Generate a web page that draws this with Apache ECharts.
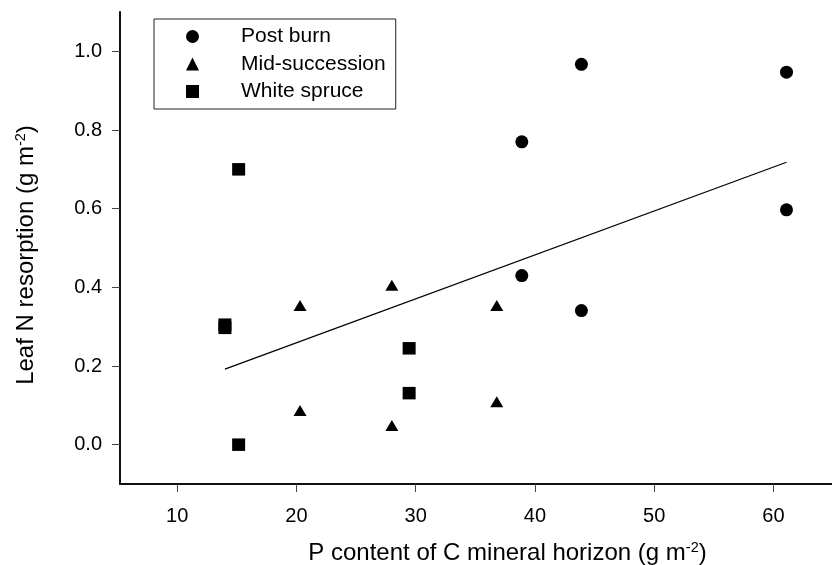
<!DOCTYPE html>
<html>
<head>
<meta charset="utf-8">
<title>Leaf N resorption vs P content</title>
<script src="https://cdn.jsdelivr.net/npm/echarts@6/dist/echarts.min.js"></script>
<style>
  html, body { margin: 0; padding: 0; background: #fff; }
  #chart { width: 832px; height: 565px; }
</style>
</head>
<body>
<div id="chart"></div>
<script>
// Stand types: P content of the C mineral horizon (g m-2) vs leaf N resorption (g m-2)
const postBurnX = [38.9, 38.9, 43.9, 43.9, 61.1, 61.1];
const postBurnY = [0.770, 0.430, 0.967, 0.341, 0.947, 0.597];

const midSuccX = [20.3, 20.3, 28.0, 28.0, 36.8, 36.8];
const midSuccY = [0.354, 0.087, 0.405, 0.049, 0.354, 0.109];

const spruceX = [15.15, 15.15, 14.0, 14.0, 29.45, 29.45];
const spruceY = [0.700, 0.000, 0.305, 0.297, 0.245, 0.131];

// Least-squares fit line over the pooled stands (end points)
const fitX = [14.0, 61.1];
const fitY = [0.192, 0.718];

const seriesNames = ['Post burn', 'Mid-succession', 'White spruce'];
const xTicks = [10, 20, 30, 40, 50, 60];
const yTicks = [0.0, 0.2, 0.4, 0.6, 0.8, 1.0];

const FONT = '"Liberation Sans", Arial, Helvetica, sans-serif';

function pairs(xs, ys) {
  return xs.map((x, i) => [x, ys[i]]);
}

const chart = echarts.init(document.getElementById('chart'), null, { renderer: 'canvas' });

const axisLineStyle = { show: true, onZero: false, lineStyle: { color: '#111', width: 2 } };
const tickStyle = { lineStyle: { color: '#444', width: 1 } };
const solid = { color: '#000', opacity: 1 };

chart.setOption({
  animation: false,
  backgroundColor: '#fff',
  textStyle: { fontFamily: FONT, color: '#000' },
  grid: {
    left: 120, top: 12, width: 713, height: 472,
    containLabel: false,
    outerBoundsMode: 'none'
  },
  legend: {
    data: seriesNames,
    orient: 'vertical',
    left: 154,
    top: 19,
    itemWidth: 13,
    itemHeight: 13,
    itemGap: 6.5,
    padding: [7, 10, 7, 32],
    borderColor: '#222',
    borderWidth: 1,
    backgroundColor: '#fff',
    selectedMode: false,
    itemStyle: { opacity: 1 },
    textStyle: { fontFamily: FONT, fontSize: 21, color: '#000', lineHeight: 20, padding: [0, 0, 0, 37] }
  },
  xAxis: {
    type: 'value',
    min: 5.2,
    max: 65,
    splitLine: { show: false },
    axisLine: axisLineStyle,
    axisTick: Object.assign({ length: 8, inside: false, customValues: xTicks }, tickStyle),
    axisLabel: {
      customValues: xTicks,
      margin: 22,
      fontSize: 20,
      fontFamily: FONT,
      color: '#000',
      formatter: v => String(v)
    },
    name: 'P content of C mineral horizon (g m{sup|-2})',
    nameLocation: 'middle',
    nameGap: 56,
    nameTextStyle: {
      fontFamily: FONT,
      fontSize: 24,
      color: '#000',
      lineHeight: 27,
      padding: [0, 0, 0, 62],
      rich: {
        sup: { fontFamily: FONT, fontSize: 14.5, color: '#000', verticalAlign: 'top', lineHeight: 14 }
      }
    }
  },
  yAxis: {
    type: 'value',
    min: -0.1,
    max: 1.1,
    splitLine: { show: false },
    axisLine: axisLineStyle,
    axisTick: Object.assign({ length: 8, inside: false, customValues: yTicks }, tickStyle),
    axisLabel: {
      customValues: yTicks,
      margin: 18,
      fontSize: 20,
      fontFamily: FONT,
      color: '#000',
      formatter: v => v.toFixed(1)
    },
    name: 'Leaf N resorption (g m{sup|-2})',
    nameLocation: 'middle',
    nameGap: 80,
    nameTextStyle: {
      fontFamily: FONT,
      fontSize: 24,
      color: '#000',
      lineHeight: 27,
      padding: [0, 14, 0, 0],
      rich: {
        sup: { fontFamily: FONT, fontSize: 14.5, color: '#000', verticalAlign: 'top', lineHeight: 14 }
      }
    }
  },
  series: [
    {
      name: seriesNames[0],
      type: 'scatter',
      symbol: 'circle',
      symbolSize: 13,
      itemStyle: solid,
      data: pairs(postBurnX, postBurnY)
    },
    {
      name: seriesNames[1],
      type: 'scatter',
      symbol: 'triangle',
      symbolSize: [13, 11],
      itemStyle: solid,
      data: pairs(midSuccX, midSuccY)
    },
    {
      name: seriesNames[2],
      type: 'scatter',
      symbol: 'rect',
      symbolSize: [13, 12.5],
      itemStyle: solid,
      data: pairs(spruceX, spruceY)
    },
    {
      name: 'fit',
      type: 'line',
      showSymbol: false,
      symbol: 'none',
      silent: true,
      lineStyle: { color: '#000', width: 1.3 },
      data: pairs(fitX, fitY),
      z: 1
    }
  ]
});
</script>
</body>
</html>
